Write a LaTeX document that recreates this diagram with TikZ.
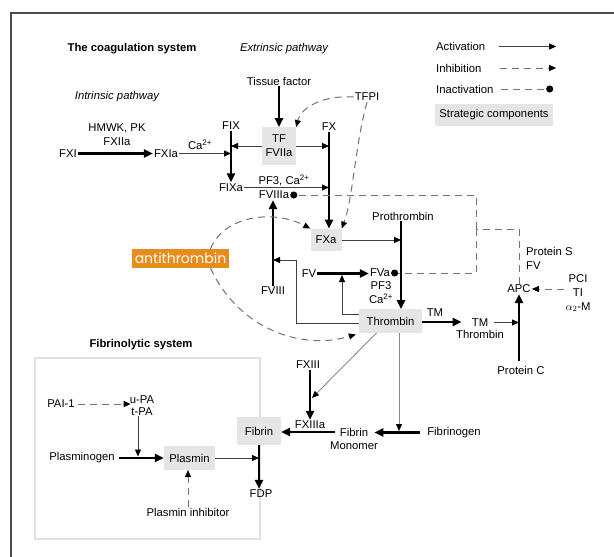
\documentclass[tikz,border=0pt]{standalone}
\usepackage{fontspec}
\setmainfont{Liberation Sans}
\newfontfamily\atfont{Poppins}
\usetikzlibrary{arrows.meta}
\definecolor{atorange}{RGB}{233,140,30}
\definecolor{boxgray}{RGB}{229,229,229}

\begin{document}
\begin{tikzpicture}[x=1pt,y=-1pt,
	lbl/.style={inner sep=1pt,align=center,font=\fontsize{11.3}{14}\selectfont},
	ttl/.style={lbl,font=\fontsize{11.3}{14}\selectfont\bfseries},
	ital/.style={lbl,font=\fontsize{11.3}{14}\selectfont\itshape},
	sbox/.style={lbl,fill=boxgray,inner sep=0pt},
	act/.style={draw=black!75,line width=0.9pt,-{Triangle[length=7pt,width=6pt,color=black]}},
	actg/.style={act,draw=black!45},
	bigact/.style={line width=2.8pt,-{Triangle[length=9pt,width=8pt]}},
	dsh/.style={draw=black!55,line width=1pt,dash pattern=on 7pt off 5pt},
	inh/.style={dsh,-{Triangle[length=7pt,width=6pt,color=black]}},
	inact/.style={dsh,-{Circle[length=7pt,color=black]}}]
				   
	\useasboundingbox (0,0) rectangle (614,557);
	\draw[black!70,line width=1.3pt] (11,557) -- (11,13) -- (614,13);
	%
	\node[ttl] (tCoag) at (132,49) {The coagulation system};
	\node[ital] (tExt) at (284,49) {Extrinsic pathway};
	\node[ital] (tInt) at (117,97) {Intrinsic pathway};
	\node[ttl] (tFib) at (141,345) {Fibrinolytic system};
	\draw[black!12,line width=1.5pt] (35,358) rectangle (260,539);
	% legend
	\node[lbl,anchor=west] (lAct) at (435,46.5) {Activation};
	\node[lbl,anchor=west] (lInh) at (435,68) {Inhibition};
	\node[lbl,anchor=west] (lIna) at (435,89) {Inactivation};
	\node[sbox,minimum width=118pt,minimum height=22.5pt] (lStr) at (494,115) {Strategic components};
	\draw[act] ([xshift=13pt]lAct.east) -- ([xshift=3pt]lAct.east -| lStr.east);
	\draw[inh] ([xshift=17pt]lInh.east) -- ([xshift=3pt]lInh.east -| lStr.east);
	\draw[inact] ([xshift=6pt]lIna.east) -- (lIna.east -| lStr.east);
	%
	\node[lbl] (Tis) at (279,81) {Tissue factor};
	\node[lbl] (TFPI) at (367,97) {TFPI};
	\node[sbox,minimum width=34pt,minimum height=37.5pt] (TF) at (279,146) {TF\\FVIIa};
	\node[lbl] (FIX) at (231,126) {FIX};
	\node[lbl] (FIXa) at (231,187.5) {FIXa};
	\node[lbl] (FX) at (329,127) {FX};
	\node[lbl] (FXI) at (68,153.5) {FXI};
	\node[lbl] (FXIa) at (166,153.5) {FXIa};
	\node[lbl] (cofXI) at (117,135) {HMWK, PK\\FXIIa};
	\node[lbl] (caA) at (200,145) {Ca\textsuperscript{2+}};
	\node[lbl] (cofX) at (284,180) {PF3, Ca\textsuperscript{2+}};
	\node[lbl] (FVIIIa) at (274,195) {FVIIIa};
	\node[lbl] (FVIII) at (273,290.6) {FVIII};
	\node[sbox,minimum width=31pt,minimum height=22.5pt] (FXa) at (326,240) {FXa};
	\node[lbl] (FV) at (309,273.5) {FV};
	\node[lbl] (FVa) at (380,273) {FVa};
	\node[lbl] (cofV) at (381,293) {PF3\\Ca\textsuperscript{2+}};
	\node[lbl] (Prothr) at (403,216) {Prothrombin};
	\node[sbox,minimum width=63pt,minimum height=23.5pt] (Thr) at (390.5,321) {Thrombin};
	\node[lbl] (TMa) at (435,312.6) {TM};
	\node[lbl] (TMb) at (480,322.5) {TM};
	\node[lbl] (TMThr) at (480,334) {Thrombin};
	\node[lbl] (ProtC) at (521,370.5) {Protein C};
	\node[lbl] (APC) at (519,289) {APC};
	\node[lbl,anchor=west,align=left] (ProtS) at (525,258) {Protein S\\FV};
	\node[lbl] (PCI) at (578,293) {PCI\\TI\\$\alpha_2$-M};
	\node[fill=atorange,text=white,inner sep=0pt,minimum width=97pt,minimum height=19pt,font=\atfont\fontsize{14}{14}\selectfont] (AT) at (180.5,258.5) {antithrombin};
	%
	\node[lbl] (FXIII) at (308,365) {FXIII};
	\node[lbl] (FXIIIa) at (310,425) {FXIIIa};
	\node[lbl] (Fbg) at (454,432.5) {Fibrinogen};
	\node[lbl] (FbMa) at (354,432) {Fibrin};
	\node[lbl] (FbMb) at (354,446) {Monomer};
	\node[sbox,minimum width=44pt,minimum height=27.5pt] (Fbn) at (259,431) {Fibrin};
	\node[lbl] (FDP) at (261,494) {FDP};
	\node[sbox,minimum width=51pt,minimum height=23.7pt] (Pls) at (189.5,458) {Plasmin};
	\node[lbl] (Plg) at (82,458) {Plasminogen};
	\node[lbl] (uPA) at (142,405.5) {u-PA\\[-2.6pt]t-PA};
	\node[lbl] (PAI) at (61,404) {PAI-1};
	\node[lbl] (PlsI) at (188,512) {Plasmin inhibitor};
	\coordinate (jn) at (476,229);
	\coordinate (fbk) at (296,260);
	\coordinate (fvln) at (342,275);
	\coordinate (xiii) at (312,398);
	% coagulation
	\draw[bigact] (Tis) -- (TF);
	\draw[bigact] (FXI) -- (FXIa);
	\draw[act] (FXIa) -- (FXIa -| FIX.south);
	\draw[act] (TF.west) -- (TF.west -| FIX.south);
	\draw[act] (TF.east) -- (TF.east -| FX.south);
	\draw[bigact] (FIX.south) -- (FIXa.north);
	\draw[act] (FIXa.east) -- (FIXa.east -| FX.south);
	\draw[bigact] (FX.south) -- (FX.south |- FXa.north);
	\draw[bigact] (FVIII.north) -- (FVIII.north |- FVIIIa.south);
	\draw[bigact] (FV.east) -- (FV.east -| FVa.west);
	\draw[act] (FXa.east) -- ([xshift=-2pt]Prothr.south |- FXa.east);
	\draw[bigact] ([xshift=-2pt]Prothr.south) -- ([xshift=-2pt]Prothr.south |- Thr.north);
	\draw[act] ([yshift=-2pt]Thr.west) -| (fbk) -- (fbk -| FVIII.north);
	\draw[act] ([yshift=7pt]Thr.west) -| (fvln);
	\draw[bigact] ([yshift=-1pt]Thr.east) -- ([xshift=-9pt,yshift=-1pt]Thr.east -| TMb.west);
	\draw[act] ([xshift=5pt]TMb.east) -- (TMb.east -| APC.south);
	\draw[bigact] ([yshift=4pt]APC.south |- ProtC.north) -- (APC.south);
	\draw[inh] (PCI.west |- APC) -- (APC.east);
	% inactivation by APC
	\draw[dsh] (APC.north) |- (jn);
	\draw[inact] (jn) |- (FVIIIa.east);
	\draw[inact] (jn) |- (FVa.east);
	% inhibitors
	\draw[inh] (TFPI.west) .. controls +(-30,-2) and +(5,-20) .. (TF.north east);
	\draw[inh] (TFPI.south) .. controls +(-12,44) and +(11,-29) .. (FXa.north east);
	\draw[inh] ([xshift=30pt]AT.north) .. controls +(14,-34) and +(-36,-19) .. (FXa.north west);
	\draw[inh] ([xshift=30pt]AT.south) .. controls +(29,62) and +(-53,16) .. ([xshift=-3pt,yshift=-1.5pt]Thr.south west);
	% fibrin
	\draw[actg] ([xshift=-14pt]Thr.south) -- (xiii);
	\draw[actg] ([xshift=8.5pt]Thr.south) -- ([xshift=8.5pt,yshift=1.5pt]Thr.south |- Fbg.west);
	\draw[bigact] (FXIIIa.north |- FXIII.south) -- (FXIIIa.north);
	\draw[bigact] ([xshift=-6pt]Fbg.west) -- ([xshift=5pt]FbMa.east |- Fbg.west);
	\draw[bigact] ([xshift=-4pt]FbMa.west) -- (Fbn.east |- FbMa.west);
	\draw[bigact] (Fbn.south) -- (Fbn.south |- FDP.north);
	% fibrinolysis
	\draw[bigact] ([xshift=3pt]Plg.east) -- (Plg.east -| Pls.west);
	\draw[act] (Pls.east) -- (Pls.east -| Fbn.south);
	\draw[act] ([xshift=-4pt]uPA.south) -- ([xshift=-4pt,yshift=1.5pt]uPA.south |- Plg.east);
	\draw[inh] ([xshift=2pt]PAI.east) -- ([xshift=2pt]uPA.west |- PAI.east);
	\draw[inh] (PlsI.north) -- (PlsI.north |- Pls.south);
				   
\end{tikzpicture}
\end{document}
